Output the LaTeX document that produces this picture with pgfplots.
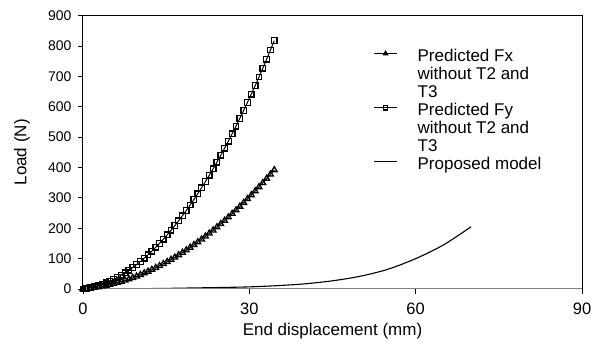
\documentclass[border=0pt]{standalone}
\usepackage{pgfplots}
\usepackage{pgfplotstable}
\pgfplotsset{compat=1.18}
\usepackage{fontspec}
\setmainfont{Liberation Sans}

% Predicted end loads without T2 and T3: displacement (mm), Fx (N), Fy (N)
\pgfplotstableread{
x      fx      fy
0.00   0.00    0.00
0.69   1.25    1.92
1.38   2.76    4.42
2.07   4.54    7.52
2.76   6.60    11.20
3.45   8.92    15.48
4.14   11.51   20.34
4.83   14.37   25.79
5.52   17.50   31.83
6.21   20.90   38.47
6.90   24.57   45.69
7.59   28.51   53.50
8.28   32.71   61.90
8.97   37.19   70.89
9.66   41.93   80.46
10.35  46.95   90.63
11.04  52.23   101.39
11.73  57.78   112.74
12.42  63.60   124.67
13.11  69.69   137.20
13.80  76.05   150.31
14.49  82.68   164.02
15.18  89.58   178.31
15.87  96.75   193.20
16.56  104.19  208.67
17.25  111.89  224.73
17.94  119.87  241.38
18.63  128.11  258.62
19.32  136.62  276.46
20.01  145.41  294.88
20.70  154.46  313.88
21.39  163.78  333.48
22.08  173.37  353.67
22.77  183.23  374.45
23.46  193.36  395.82
24.15  203.76  417.77
24.84  214.42  440.32
25.53  225.36  463.45
26.22  236.56  487.18
26.91  248.04  511.49
27.60  259.78  536.40
28.29  271.79  561.89
28.98  284.08  587.97
29.67  296.63  614.64
30.36  309.45  641.91
31.05  322.54  669.76
31.74  335.89  698.20
32.43  349.52  727.23
33.12  363.42  756.84
33.81  377.59  787.05
34.50  392.02  817.85
}\predicted

% Proposed model: displacement (mm), load (N)
\pgfplotstableread{
x    load
0    0
5    0.3
10   1.0
15   2.0
20   3.5
25   5.0
30   7.0
35   11.0
40   17.0
45   27.0
50   42.0
55   65.0
60   100.0
65   145.0
70   205.0
}\proposed

\begin{document}
\begin{tikzpicture}
\begin{axis}[
  scale only axis, width=499pt, height=273.3pt,
  xmin=0, xmax=90, ymin=0, ymax=900,
  xtick={0,30,60,90}, ytick={0,100,...,900},
  xtick pos=lower, ytick pos=left,
  tick align=outside,
  major tick length=5pt,
  tick style={black, line width=0.8pt},
  axis line style={black, line width=1pt},
  /pgf/number format/assume math mode=true,
  yticklabel style={font=\fontsize{14}{16}\selectfont, xshift=-3pt},
  xticklabel style={font=\fontsize{16.5}{18}\selectfont, yshift=-5pt},
  xlabel={End displacement (mm)},
  ylabel={Load (N)},
  label style={font=\fontsize{17}{19}\selectfont},
  xlabel style={at={(axis description cs:0.5,0)}, anchor=base, yshift=-46pt},
  ylabel style={at={(axis description cs:0,0.5)}, anchor=center, yshift=61pt},
  legend cell align=left,
  legend image code/.code={%
    \draw[mark repeat=2, mark phase=2, mark size=2.2pt]
      plot coordinates {(0pt,2pt) (11.5pt,2pt) (23pt,2pt)};},
  legend style={
    at={(axis cs:52.4,792)}, anchor=north west,
    draw=none, fill=none, inner sep=0pt, outer sep=0pt,
    row sep=40pt,
    nodes={inner sep=0pt, font=\fontsize{17}{18.2}\selectfont},
    /tikz/every odd column/.style={column sep=20pt},
  },
]
\addplot[black, line width=1pt, mark=triangle, mark size=3.3pt,
  mark options={solid, line width=1.3pt}] table[x=x, y=fx] {\predicted};
\addlegendentry{\begin{tabular}[t]{@{}l@{}}Predicted Fx\\without T2 and\\T3\end{tabular}}
\addplot[black, line width=1pt, mark=square, mark size=2.8pt,
  mark options={solid, line width=1.3pt}] table[x=x, y=fy] {\predicted};
\addlegendentry{\begin{tabular}[t]{@{}l@{}}Predicted Fy\\without T2 and\\T3\end{tabular}}
\addplot[black, line width=1.1pt, smooth] table[x=x, y=load] {\proposed};
\addlegendentry{Proposed model}
\draw[gray, line width=1.1pt] (axis cs:0,0) -- (axis cs:90,0);
\end{axis}
\pgfresetboundingbox
\path[use as bounding box]
  ([xshift=-83pt, yshift=-58pt]current axis.south west)
  rectangle ([xshift=14pt, yshift=15.7pt]current axis.north east);
\end{tikzpicture}
\end{document}
